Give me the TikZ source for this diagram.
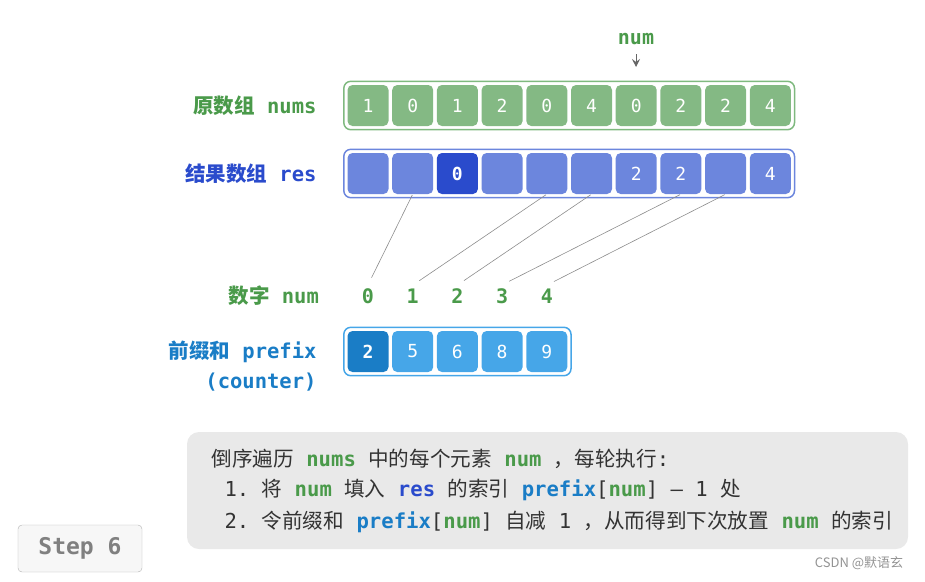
\documentclass[tikz,border=0pt]{standalone}
\usepackage{fontspec}
\setmainfont{Noto Sans CJK SC}
\setmonofont{DejaVu Sans Mono}
\usetikzlibrary{arrows.meta,fit,positioning}
\definecolor{NumCell}{RGB}{132,185,132}
\definecolor{NumLine}{RGB}{127,185,127}
\definecolor{TxtGreen}{RGB}{74,154,74}
\definecolor{ResCell}{RGB}{108,134,221}
\definecolor{ResDark}{RGB}{42,75,204}
\definecolor{PreCell}{RGB}{70,166,232}
\definecolor{PreDark}{RGB}{26,125,198}
\definecolor{BoxGray}{RGB}{233,233,233}
\definecolor{TxtGray}{RGB}{51,51,51}
\newcommand{\msp}{\texttt{\ }}
\newcommand{\kw}[2]{\textcolor{#1}{\ttfamily\bfseries #2}}

\begin{document}
\begin{tikzpicture}[x=1pt,y=-1pt,
       >=Stealth, thin,
       every node/.style={font=\fontsize{20}{24}\selectfont},
       cell/.style 2 args = {rectangle, rounded corners=5pt, minimum size=41pt, inner sep=0pt,
                             fill=#1, text=white, font=\ttfamily#2\fontsize{18}{18}\selectfont},
       rowbox/.style = {rectangle, rounded corners=7pt, draw=#1, line width=1.5pt, inner sep=3.5pt},
       rowlabel/.style = {text=#1, font=\bfseries\fontsize{20.5}{30}\selectfont},
       digit/.style = {text=TxtGreen, font=\ttfamily\bfseries\fontsize{20}{24}\selectfont},
       link/.style = {draw=gray!90, line width=0.6pt, shorten >=8pt, shorten <=1pt},
       boxtext/.style = {anchor=west, text=TxtGray, font=\fontsize{20.6}{24}\selectfont},
       stepbox/.style = {rectangle, draw=gray!60, fill=gray!6, rounded corners=4pt,
                         minimum width=124pt, minimum height=47pt, text=gray,
                         font=\ttfamily\bfseries\fontsize{23}{24}\selectfont}]
	\useasboundingbox (0,0) rectangle (925,581);

	%% Input array
	\foreach \v [count=\i from 0] in {1,0,1,2,0,4,0,2,2,4}
		\node [cell={NumCell}{}] (n\i) at ({368+44.7*\i},105.5) {\v};
	\node [rowbox=NumLine, fit=(n0)(n9)] (nbox) {};
	\node [rowlabel=TxtGreen, left=23pt of nbox] (nlabel) {原数组\msp\texttt{nums}};

	%% Current element
	\node [digit] (ptr) at (636,39) {num};
	\coordinate (tip) at (636,67);
	\draw [-{Stealth[length=8pt,width=8pt,inset=3pt]}, gray!80!black, line width=1pt, shorten <=6pt] (ptr.south) -- (tip);

	%% Result array
	\foreach \v/\c/\w [count=\i from 0] in {/ResCell/, /ResCell/, 0/ResDark/\bfseries, /ResCell/,
	                                        /ResCell/, /ResCell/, 2/ResCell/, 2/ResCell/, /ResCell/, 4/ResCell/}
		\node [cell={\c}{\w}] (r\i) at ({368+44.7*\i},173.5) {\v};
	\node [rowbox=ResCell, fit=(r0)(r9)] (rbox) {};
	\node [rowlabel=ResDark, left=23pt of rbox] (rlabel) {结果数组\msp\texttt{res}};

	%% Digits
	\foreach \i in {0,...,4}
		\node [digit] (d\i) at ({368+44.7*\i},296) {\i};
	\node [rowlabel=TxtGreen, left=36pt of d0] (dlabel) {数字\msp\texttt{num}};

	%% Links
	\draw [link] (r1.south) -- (d0.north);
	\draw [link] (r4.south) -- (d1.north);
	\draw [link] (r5.south) -- (d2.north);
	\draw [link] (r7.south) -- (d3.north);
	\draw [link] (r8.south) -- (d4.north);

	%% Prefix sums
	\foreach \v/\c/\w [count=\i from 0] in {2/PreDark/\bfseries, 5/PreCell/, 6/PreCell/, 8/PreCell/, 9/PreCell/}
		\node [cell={\c}{\w}] (p\i) at ({368+44.7*\i},351.5) {\v};
	\node [rowbox=PreCell, fit=(p0)(p4)] (pbox) {};
	\node [rowlabel=PreDark, align=right, left=23pt of pbox, yshift=-15pt] (plabel)
	      {前缀和\msp\texttt{prefix}\\\texttt{(counter)}};

	%% Explanation
	\fill [BoxGray, rounded corners=12pt] (187,432) rectangle (908,549);
	\node [boxtext] (t1) at (208,459)
	      {倒序遍历\msp\kw{TxtGreen}{nums}\msp 中的每个元素\msp\kw{TxtGreen}{num}\msp，每轮执行\texttt{:}};
	\node [boxtext] (t2) at (221,490)
	      {\texttt{1.}\msp 将\msp\kw{TxtGreen}{num}\msp 填入\msp\kw{ResDark}{res}\msp 的索引\msp\kw{PreDark}{prefix}\texttt{[}\kw{TxtGreen}{num}\texttt{] – 1}\msp 处};
	\node [boxtext] (t3) at (221,522)
	      {\texttt{2.}\msp 令前缀和\msp\kw{PreDark}{prefix}\texttt{[}\kw{TxtGreen}{num}\texttt{]}\msp 自减\msp\texttt{1}\msp，从而得到下次放置\msp\kw{TxtGreen}{num}\msp 的索引};

	%% Step
	\node [stepbox] (step) at (80,548.5) {Step 6};
	\node [text=gray!85, font=\fontsize{13}{15}\selectfont] (mark) at (859,563) {CSDN @默语玄};
\end{tikzpicture}
\end{document}
